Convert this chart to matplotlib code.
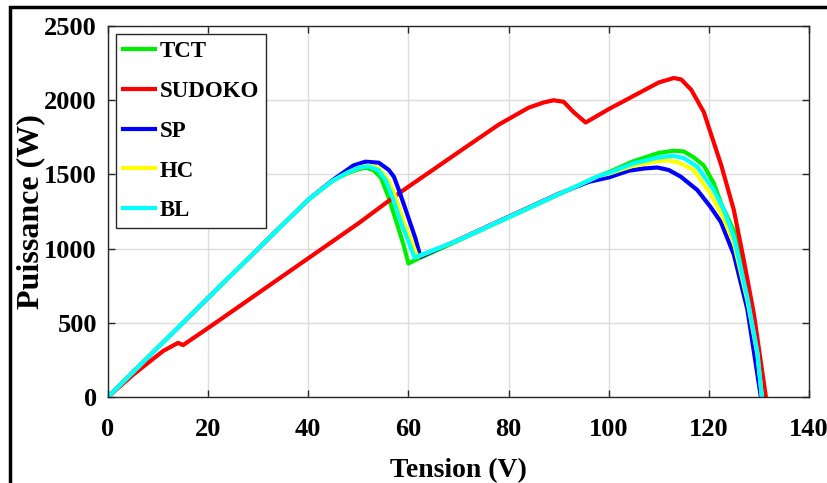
import matplotlib
matplotlib.use('Agg')
import matplotlib.pyplot as plt

# Courbes P-V
tct_v = [0, 10, 20, 30, 40, 45, 48, 50, 51.5, 53, 54.5, 56, 57.7, 59, 60, 61.5,
         70, 80, 90, 98, 100, 105, 110, 113, 115, 117, 119, 121, 122.5, 125, 127.7, 129.7, 130.7]
tct_p = [0, 335, 668, 1000, 1330, 1460, 1510, 1535, 1545, 1530, 1480, 1350, 1170, 1030, 900, 925,
         1055, 1210, 1365, 1490, 1515, 1590, 1645, 1660, 1655, 1615, 1560, 1440, 1300, 1120, 700, 320, 0]

sudoko_v = [0, 5, 11, 14, 15, 20, 30, 40, 50, 58.4, 70, 78, 84, 87, 89, 91, 93, 95.4,
            100, 105, 110, 113, 114.5, 116.5, 119, 122.5, 125, 127, 129, 131.4]
sudoko_p = [0, 150, 310, 365, 350, 465, 700, 935, 1170, 1380, 1650, 1835, 1950, 1985, 2000, 1990, 1920, 1850,
            1940, 2030, 2120, 2150, 2140, 2070, 1920, 1560, 1260, 920, 560, 0]

sp_v = [0, 10, 20, 30, 40, 45, 49, 51.4, 54.1, 56.1, 57.1, 58.1, 59.7, 61.4, 62.4,
        70, 80, 90, 96, 100, 104, 107, 109.7, 112, 114.4, 117.7, 120.3, 122.4, 125, 127.7, 130.4]
sp_p = [0, 335, 668, 1000, 1330, 1465, 1560, 1586, 1579, 1530, 1485, 1395, 1238, 1070, 945,
        1060, 1215, 1370, 1450, 1480, 1525, 1540, 1547, 1530, 1485, 1395, 1283, 1180, 960, 590, 0]

hc_v = [0, 10, 20, 30, 40, 45, 48, 50, 52, 54, 56, 57.5, 59, 60.5, 61.8,
        70, 80, 90, 98, 100, 105, 110, 112, 114, 117, 120.3, 123, 125, 127.7, 129.7, 130.6]
hc_p = [0, 335, 668, 1000, 1330, 1460, 1515, 1545, 1560, 1545, 1460, 1340, 1190, 1060, 945,
        1058, 1212, 1367, 1490, 1505, 1560, 1590, 1595, 1580, 1530, 1372, 1200, 1040, 650, 290, 0]

bl_v = [0, 10, 20, 30, 40, 45, 48, 50, 52, 54, 55.5, 57, 58.5, 60, 61.2,
        70, 80, 90, 98, 100, 105, 110, 113, 115, 117.7, 121, 123, 125, 127.7, 129.7, 130.6]
bl_p = [0, 335, 668, 1000, 1330, 1460, 1515, 1545, 1555, 1530, 1460, 1330, 1180, 1050, 940,
        1057, 1211, 1366, 1490, 1510, 1575, 1615, 1625, 1610, 1552, 1395, 1260, 1080, 670, 300, 0]

labels = ['TCT', 'SUDOKO', 'SP', 'HC', 'BL']
colors = ['#00ee00', '#ff0000', '#0000ff', '#ffff00', '#00ffff']

plt.rcParams['font.family'] = ['Liberation Serif', 'DejaVu Serif']
plt.rcParams['font.weight'] = 'bold'

fig = plt.figure(figsize=(8.28, 4.83), dpi=100)
ax = fig.add_axes([0.1304, 0.178, 0.8466, 0.768])

series = [(tct_v, tct_p), (sudoko_v, sudoko_p), (sp_v, sp_p), (hc_v, hc_p), (bl_v, bl_p)]
for (v, p), lab, c in zip(series, labels, colors):
    ax.plot(v, p, color=c, lw=3, label=lab, solid_joinstyle='round')

ax.set_xlim(0, 140)
ax.set_ylim(0, 2500)
ax.set_xticks(range(0, 141, 20))
ax.set_yticks(range(0, 2501, 500))
ax.grid(True, color='#dcdcdc', lw=1)
ax.set_axisbelow(True)
ax.tick_params(direction='in', length=5, width=1, color='#262626', labelsize=19,
               top=True, right=True)
ax.tick_params(axis='x', pad=15)
ax.tick_params(axis='y', pad=8)
for lab in ax.get_xticklabels() + ax.get_yticklabels():
    lab.set_fontweight('bold')
for s in ax.spines.values():
    s.set_color('#262626')
    s.set_linewidth(1)

ax.set_xlabel('Tension (V)', fontsize=20, fontweight='bold')
ax.set_ylabel('Puissance (W)', fontsize=23, fontweight='bold')
ax.xaxis.set_label_coords(0.5, -0.165)
ax.yaxis.set_label_coords(-0.09, 0.5)

leg = ax.legend(loc='upper left', fontsize=16.5, handlelength=1.4, handletextpad=0.2,
                labelspacing=0.82, borderaxespad=0.35, fancybox=False, framealpha=1,
                edgecolor='#262626', borderpad=0.3)
leg.get_frame().set_linewidth(1)
for t in leg.get_texts():
    t.set_fontweight('bold')

# cadre autour de la figure
fig.add_artist(plt.Rectangle((10 / 828, -0.5), 1.5, 0.5 + 1 - 7 / 483,
                             transform=fig.transFigure, fill=False, lw=2.5,
                             edgecolor='black', clip_on=False))

fig.savefig('out.png', dpi=100)
